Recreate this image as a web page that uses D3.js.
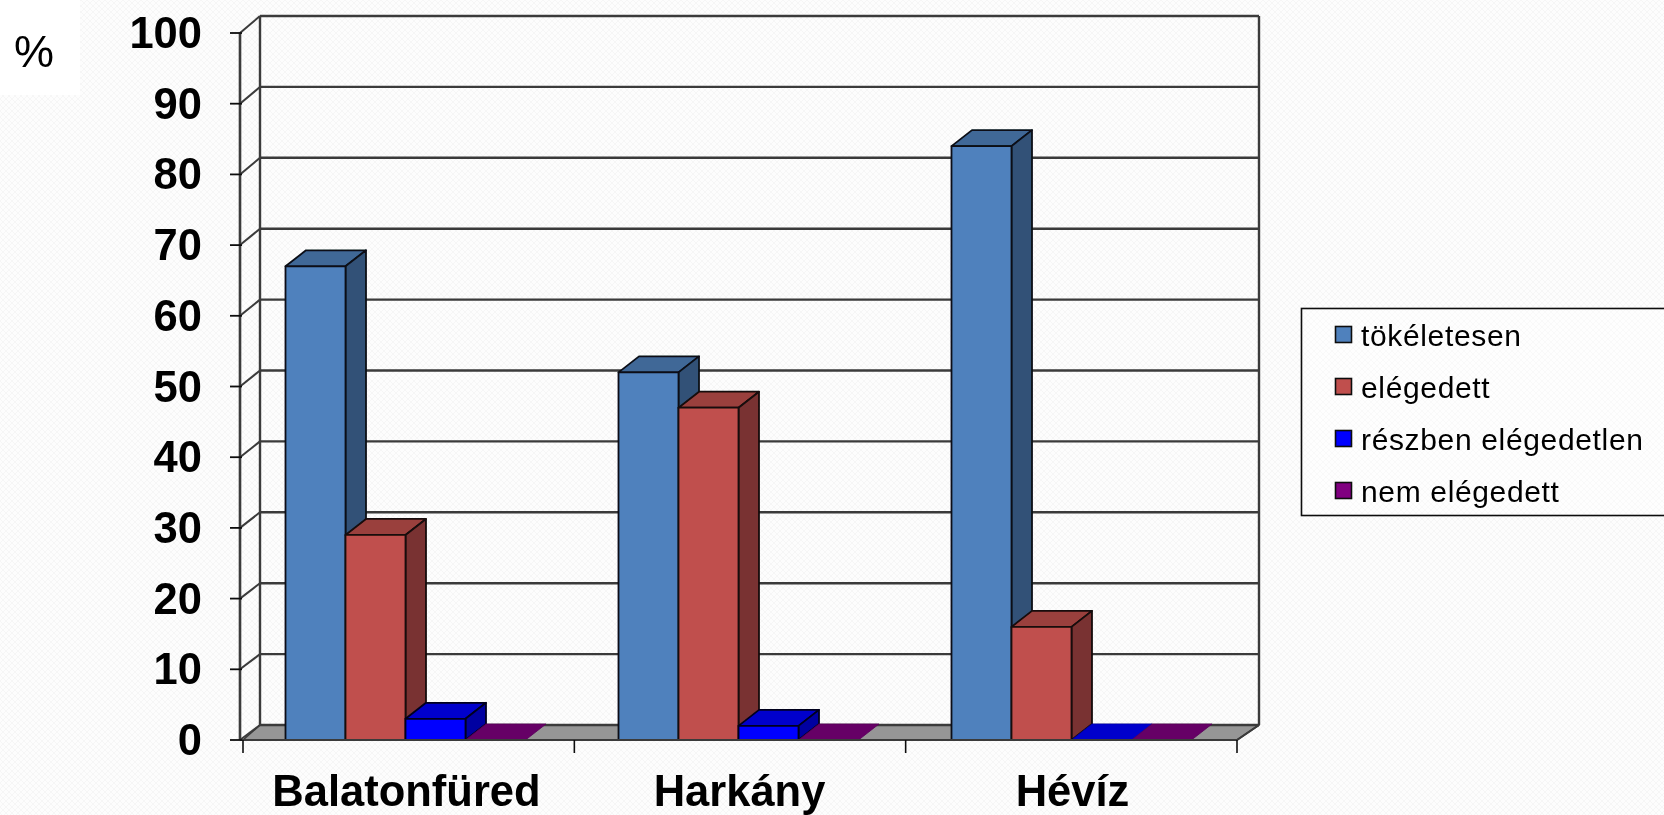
<!DOCTYPE html>
<html><head><meta charset="utf-8">
<script src="https://cdn.jsdelivr.net/npm/d3@7"></script>
<style>html,body{margin:0;padding:0;background:#fbfbfb;overflow:hidden}svg{display:block}text{font-family:"Liberation Sans",Arial,sans-serif;fill:#000}</style>
</head><body><svg id="c" width="1664" height="815"></svg>
<script>
const categories = ["Balatonfüred", "Harkány", "Hévíz"];
const seriesNames = ["tökéletesen", "elégedett", "részben elégedetlen", "nem elégedett"];
const tokeletesen = [67, 52, 84];
const elegedett = [29, 47, 16];
const reszben = [3, 2, 0];
const nem = [0, 0, 0];
const yTicks = [0,10,20,30,40,50,60,70,80,90,100];
const faceColors = ["#4f81bd", "#c0504d", "#0000ff", "#800080"];
const values = [tokeletesen, elegedett, reszben, nem];

const svg = d3.select("#c");
const defs = svg.append("defs");
const pat = defs.append("pattern").attr("id","tex").attr("width",6).attr("height",6).attr("patternUnits","userSpaceOnUse");
pat.append("rect").attr("width",6).attr("height",6).attr("fill","#fdfdfd");
pat.append("path").attr("d","M0 3L3 0L6 3L3 6Z").attr("fill","none").attr("stroke","#f6f6f6").attr("stroke-width",1);
defs.append("filter").attr("id","soft").attr("x","-5%").attr("y","-5%").attr("width","110%").attr("height","110%")
  .append("feGaussianBlur").attr("stdDeviation",0.55);
svg.append("rect").attr("width",1664).attr("height",815).attr("fill","url(#tex)");
svg.append("rect").attr("width",80).attr("height",95).attr("fill","#fff");

const g = svg.append("g").attr("filter","url(#soft)");
const dx = 20.5, dy = -16;
const y = d3.scaleLinear().domain([0,100]).range([740,33]);
const yBack = d3.scaleLinear().domain([0,100]).range([725,16]);
const xTick = d3.scaleBand().domain(categories).range([243,1237]);
const x0 = d3.scaleBand().domain(categories).range([239,1238]);
const bx = d3.scaleLinear().domain([243,1237]).range([260,1259]);
const x1 = d3.scaleBand().domain(d3.range(4)).range([0,x0.bandwidth()]).paddingOuter(46.5/60);
const xl = xTick.range()[0], xr = xTick.range()[1];
const wall = "#3a3a3a";
const poly = (pts,fill,stroke,sw)=>g.append("polygon").attr("points",pts.map(p=>p.join(",")).join(" "))
  .attr("fill",fill).attr("stroke",stroke).attr("stroke-width",sw).attr("stroke-linejoin","round");
const line = (a,b,c,w)=>g.append("line").attr("x1",a[0]).attr("y1",a[1]).attr("x2",b[0]).attr("y2",b[1]).attr("stroke",c).attr("stroke-width",w);

// floor
poly([[xl,y(0)],[xr,y(0)],[bx(xr),yBack(0)],[bx(xl),yBack(0)]],"#969696","#3a3a3a",1.6);
// gridlines and back wall
yTicks.forEach(t=>{
  line([xl-3,y(t)],[bx(xl),yBack(t)],wall,2);
  line([bx(xl),yBack(t)],[bx(xr),yBack(t)],wall,2.4);
});
line([bx(xl),yBack(0)],[bx(xl),yBack(100)],wall,2.4);
line([bx(xr),yBack(0)],[bx(xr),yBack(100)],wall,2.4);
line([xl-3,y(0)],[xl-3,y(100)],wall,2.6);
line([xr,y(0)],[bx(xr),yBack(0)],wall,2);

// bars
const mix=(c,k)=>{const r=d3.rgb(c);return d3.rgb(r.r*k,r.g*k,r.b*k).formatHex();};
categories.forEach((c,ci)=>{
  d3.range(4).forEach(si=>{
    const v = values[si][ci], xa = x0(c)+x1(si), w = x1.bandwidth(), xb = xa+w, yt=y(v), yb=y(0);
    const col = faceColors[si], stroke = mix(col,0.12);
    if(v>0){
      poly([[xa,yt],[xa+dx,yt+dy],[xb+dx,yt+dy],[xb,yt]],mix(col,0.8),stroke,1.8);
      poly([[xb,yt],[xb+dx,yt+dy],[xb+dx,yb+dy],[xb,yb]],mix(col,0.63),stroke,1.8);
      poly([[xa,yt],[xb,yt],[xb,yb],[xa,yb]],col,stroke,1.8);
    } else {
      poly([[xa,yt],[xa+dx,yt+dy],[xb+dx,yt+dy],[xb,yt]],mix(col,0.8),mix(col,0.7),0.8);
    }
  });
});
// front axis
line([xl-3,y(0)],[xr,y(0)],"#3a3a3a",2);
yTicks.forEach(t=>line([xl-13,y(t)],[xl-1,y(t)],"#111",1.8));
categories.map(c=>xTick(c)).concat([xr]).forEach(px=>line([px,y(0)],[px,y(0)+13],"#111",1.6));
// tick labels
const t = svg.append("g").attr("filter","url(#soft)");
t.selectAll(".yl").data(yTicks).join("text").attr("class","yl")
  .attr("x",202).attr("y",d=>y(d)+15).attr("text-anchor","end")
  .attr("font-size",43.5).attr("font-weight","bold").text(d=>d);
t.selectAll(".xl").data(categories).join("text").attr("class","xl")
  .attr("x",d=>x0(d)+x0.bandwidth()/2+1).attr("y",806).attr("text-anchor","middle")
  .attr("font-size",43.5).attr("font-weight","bold").text(d=>d);
t.append("text").attr("x",34).attr("y",67).attr("text-anchor","middle").attr("font-size",45).text("%");
// legend
const lg = svg.append("g").attr("filter","url(#soft)");
lg.append("rect").attr("x",1301.5).attr("y",308.5).attr("width",380).attr("height",207).attr("fill","#fff").attr("fill-opacity",0.3).attr("stroke","#111").attr("stroke-width",1.6);
const ly = d3.scalePoint().domain(seriesNames).range([335,491]);
seriesNames.forEach((s,i)=>{
  lg.append("rect").attr("x",1335.5).attr("y",ly(s)-8.5).attr("width",16).attr("height",16).attr("fill",faceColors[i]).attr("stroke","#111").attr("stroke-width",1.6);
  lg.append("text").attr("x",1361).attr("y",ly(s)+10.5).attr("font-size",30).style("letter-spacing","0.65px").text(s);
});
</script></body></html>
